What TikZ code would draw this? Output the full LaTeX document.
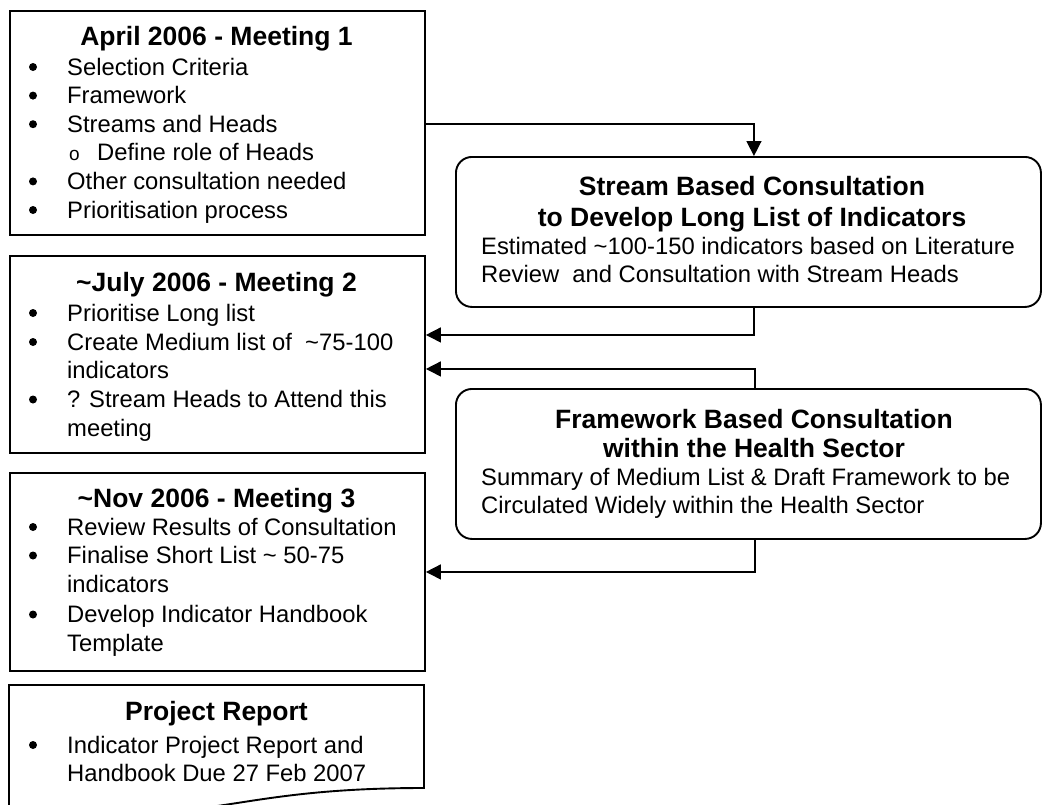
\documentclass[tikz,border=0pt]{standalone}
\usepackage{fontspec}
\setmainfont{Liberation Sans}
\usetikzlibrary{arrows.meta}
\newcommand{\bodyfs}{\fontsize{23.8}{28.6}\selectfont}
\newcommand{\titlefs}{\fontsize{26.5}{30}\selectfont\bfseries}
\tikzset{
  box/.style={draw, line width=1.9pt, inner sep=0pt, anchor=north west},
  rbox/.style={box, rounded corners=16pt},
  conn/.style={line width=1.5pt, -{Triangle[length=15pt,width=15pt]}},
  txt/.style={anchor=base west, inner sep=0pt, font=\bodyfs},
  ttl/.style={anchor=base, inner sep=0pt, font=\titlefs},
  subo/.style={anchor=base west, inner sep=0pt, font=\fontsize{19}{20}\selectfont},
}
\newcommand{\bul}[1]{\fill (33,#1-8) circle (4);}
\begin{document}
\begin{tikzpicture}[x=1pt,y=-1pt]
\useasboundingbox (0,0) rectangle (1042,804);
\fill[white] (0,0) rectangle (1042,804);
% left boxes
\node[box, minimum width=415pt, minimum height=224pt] (m1) at (9,10) {};
\node[box, minimum width=415pt, minimum height=197pt] (m2) at (9,255) {};
\node[box, minimum width=415pt, minimum height=198pt] (m3) at (9,472) {};
% project report (document shape)
\draw[line width=1.9pt] (9,807) -- (9,685) -- (424,685) -- (424,788)
  .. controls (216.5,788) and (216.5,830) .. (9,807);
% right boxes
\node[rbox, minimum width=585pt, minimum height=150pt] (sA) at (455,156) {};
\node[rbox, minimum width=585pt, minimum height=150pt] (fB) at (455,388) {};

% Box 1 text
\node[ttl] (t1) at (216.5,45) {April 2006 - Meeting 1};
\bul{75}\node[txt] (a1) at (67,75) {Selection Criteria};
\bul{103.6}\node[txt] (a2) at (67,103.6) {Framework};
\bul{132.2}\node[txt] (a3) at (67,132.2) {Streams and Heads};
\node[subo] (a4o) at (69,160.8) {o};
\node[txt] (a4) at (97,160.8) {Define role of Heads};
\bul{189.4}\node[txt] (a5) at (67,189.4) {Other consultation needed};
\bul{218}\node[txt] (a6) at (67,218) {Prioritisation process};

% Box 2 text
\node[ttl] (t2) at (216.5,291) {\textasciitilde July 2006 - Meeting 2};
\bul{321}\node[txt] (b1) at (67,321) {Prioritise Long list};
\bul{350}\node[txt] (b2) at (67,350) {Create Medium list of \ \textasciitilde 75-100};
\node[txt] (b2b) at (67,378.5) {indicators};
\bul{407.5}\node[txt] (b3) at (67,407.5) {? Stream Heads to Attend this};
\node[txt] (b3b) at (67,436) {meeting};

% Box 3 text
\node[ttl] (t3) at (216.5,507) {\textasciitilde Nov 2006 - Meeting 3};
\bul{535}\node[txt] (c1) at (67,535) {Review Results of Consultation};
\bul{563.5}\node[txt] (c2) at (67,563.5) {Finalise Short List \textasciitilde\ 50-75};
\node[txt] (c2b) at (67,592) {indicators};
\bul{622.5}\node[txt] (c3) at (67,622.5) {Develop Indicator Handbook};
\node[txt] (c3b) at (67,651) {Template};

% Box 4 text
\node[ttl] (t4) at (216.5,720) {Project Report};
\bul{753}\node[txt] (d1) at (67,753) {Indicator Project Report and};
\node[txt] (d1b) at (67,781.5) {Handbook Due 27 Feb 2007};

% Box A text
\node[ttl] (tA1) at (752,195) {Stream Based Consultation};
\node[ttl] (tA2) at (752,226) {to Develop Long List of Indicators};
\node[txt] (eA1) at (481,254) {Estimated \textasciitilde 100-150 indicators based on Literature};
\node[txt] (eA2) at (481,282) {Review \ and Consultation with Stream Heads};

% Box B text
\node[ttl] (tB1) at (754,428) {Framework Based Consultation};
\node[ttl] (tB2) at (754,457) {within the Health Sector};
\node[txt] (eB1) at (481,485) {Summary of Medium List \& Draft Framework to be};
\node[txt] (eB2) at (481,513) {Circulated Widely within the Health Sector};

% connectors
\coordinate (sAin) at ([xshift=5.5pt]sA.north);
\coordinate (sAout) at ([xshift=5.5pt]sA.south);
\coordinate (fBin) at ([xshift=6.5pt]fB.north);
\coordinate (fBout) at ([xshift=6.5pt]fB.south);
\coordinate (m2a) at ([yshift=19.5pt]m2.east);
\coordinate (m2b) at ([yshift=-14.5pt]m2.east);
\draw[conn] ([yshift=-1pt]m1.east) -| (sAin);
\draw[conn] (sAout) |- (m2a);
\draw[conn] (fBin) |- (m2b);
\draw[conn] (fBout) |- (m3.east);
\end{tikzpicture}
\end{document}
